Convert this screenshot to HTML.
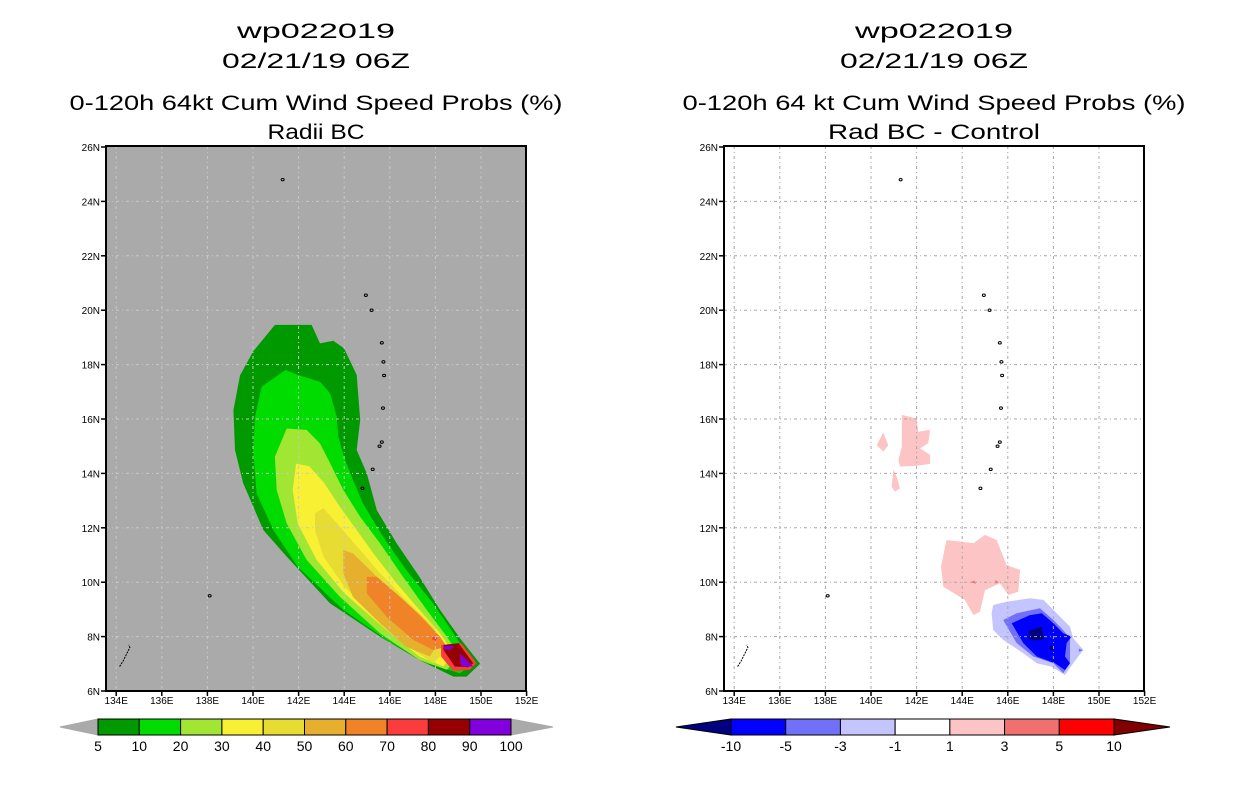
<!DOCTYPE html>
<html><head><meta charset="utf-8"><style>
html,body{margin:0;padding:0;background:#fff}
svg{display:block}
text{font-family:"Liberation Sans",sans-serif;fill:#000}
</style></head><body>
<svg id="c" width="1236" height="800" viewBox="0 0 1236 800" xmlns="http://www.w3.org/2000/svg"></svg>
<script>
const latTicks=[6,8,10,12,14,16,18,20,22,24,26];
const lonTicks=[134,136,138,140,142,144,146,148,150,152];
const probLevels=["5","10","20","30","40","50","60","70","80","90","100"];
const probColors=["#009a00","#00dc00","#a0e632","#f8f032","#e6dc32","#e6af2d","#f08228","#fa3c3c","#960000","#8200dc"];
const diffLevels=["-10","-5","-3","-1","1","3","5","10"];
const diffColors=["#0000ff","#7070f8","#c4c4ff","#ffffff","#fcc4c4","#f07070","#ff0000"];
const prob5=[[140.96,19.46],[142.57,19.46],[142.94,18.78],[143.52,18.88],[143.99,18.6],[144.55,17.62],[144.7,15.96],[144.55,14.86],[144.99,14.0],[145.43,12.65],[146.3,11.43],[147.3,10.2],[148.2,8.98],[149.08,7.94],[149.96,7.0],[149.37,6.53],[148.79,6.53],[147.3,7.14],[145.57,8.0],[143.38,9.22],[141.48,10.94],[140.45,11.92],[139.57,13.64],[139.21,14.86],[139.14,16.32],[139.43,17.6],[140.01,18.49]];
const prob10=[[141.43,17.8],[141.96,17.62],[142.94,17.37],[143.38,16.94],[143.67,16.09],[143.74,15.35],[143.99,14.61],[144.38,13.76],[144.82,12.9],[145.7,11.67],[146.72,10.45],[147.9,9.22],[148.79,8.12],[149.66,7.02],[149.08,6.65],[147.62,7.02],[145.86,7.88],[143.96,8.98],[141.96,10.57],[140.89,11.92],[140.16,13.27],[140.01,14.86],[140.09,16.09],[140.38,17.19]];
const prob20=[[141.48,15.65],[142.35,15.6],[142.94,15.1],[143.38,14.37],[143.96,13.39],[144.7,12.4],[145.57,11.43],[146.58,10.2],[147.62,8.98],[148.5,8.0],[149.08,7.27],[148.5,6.78],[147.3,7.14],[145.57,8.12],[143.81,9.46],[142.35,10.82],[141.48,12.16],[141.04,13.39],[140.96,14.61]];
const prob30=[[141.89,14.36],[142.47,14.26],[143.13,13.64],[143.81,12.77],[144.55,11.92],[145.28,11.06],[146.3,9.96],[147.3,8.98],[148.2,8.12],[148.79,7.39],[148.35,6.9],[147.3,7.27],[145.86,8.24],[144.01,9.59],[142.79,10.82],[141.96,12.16],[141.74,13.39]];
const prob40=[[142.72,12.53],[143.09,12.72],[143.81,12.04],[144.7,11.18],[145.57,10.33],[146.72,9.34],[147.9,8.37],[148.5,7.51],[147.9,7.02],[147.03,7.51],[145.57,8.61],[144.01,9.83],[143.09,10.94],[142.72,11.92]];
const prob50=[[143.96,11.18],[144.38,11.06],[145.28,10.33],[146.03,9.59],[147.3,8.73],[148.2,7.88],[147.76,7.27],[146.72,7.63],[145.57,8.49],[144.38,9.46],[143.96,10.33]];
const prob60=[[144.99,10.2],[145.43,10.2],[146.45,9.46],[147.39,8.73],[148.2,8.0],[148.5,7.63],[147.9,7.51],[147.03,7.88],[145.86,8.73],[144.99,9.59]];
const prob70a=[[147.88,8.0],[148.1,7.95],[148.0,7.85],[147.85,7.9]];
const prob70=[[148.25,7.69],[149.13,7.76],[149.81,7.02],[149.52,6.78],[148.79,6.72],[148.25,7.27]];
const prob80=[[148.35,7.69],[149.01,7.76],[149.66,7.02],[149.44,6.87],[148.85,6.9],[148.35,7.51]];
const prob90a=[[148.35,7.67],[148.86,7.64],[148.64,7.51],[148.38,7.54]];
const prob90b=[[149.06,7.39],[149.66,6.9],[149.13,6.9]];
const pinkA=[[141.35,16.15],[142.0,16.02],[142.07,15.53],[142.59,15.6],[142.51,15.11],[142.15,14.92],[142.59,14.68],[142.59,14.35],[142.0,14.28],[141.27,14.25],[141.2,14.49],[141.35,14.98]];
const pinkB=[[140.54,15.5],[140.76,15.04],[140.54,14.8],[140.25,15.04]];
const pinkC=[[140.98,14.13],[141.13,13.88],[141.27,13.45],[141.05,13.33],[140.91,13.51]];
const pinkD=[[143.32,11.55],[144.49,11.43],[145.0,11.74],[145.51,11.55],[145.95,10.63],[146.54,10.45],[146.46,9.65],[146.02,9.53],[145.66,9.96],[145.0,9.71],[144.78,8.92],[144.49,8.79],[144.12,9.35],[143.17,9.83],[143.07,10.57],[143.25,11.3]];
const salmon1=[[144.35,10.0],[144.55,10.06],[144.6,9.94]];
const salmon2=[[145.45,10.08],[145.6,10.0],[145.45,9.94]];
const blueE=[[145.36,9.16],[145.95,9.28],[146.97,9.41],[147.56,9.35],[148.14,8.86],[148.73,8.36],[148.87,7.94],[149.31,7.51],[148.87,7.02],[148.51,6.59],[147.93,6.89],[147.27,7.02],[146.68,7.39],[145.8,7.88],[145.36,8.24],[145.29,8.86]];
const blueF=[[145.8,8.61],[146.39,8.86],[147.41,9.04],[148.0,8.61],[148.43,8.24],[148.73,7.94],[148.73,7.02],[148.43,6.65],[148.0,7.02],[147.12,7.27],[146.39,7.76]];
const blueF2=[[149.12,7.56],[149.3,7.5],[149.12,7.44]];
const blueG=[[146.17,8.49],[146.97,8.79],[147.49,8.86],[148.0,8.49],[148.43,8.12],[148.8,8.0],[148.58,7.76],[148.51,7.27],[148.73,7.02],[148.51,6.77],[148.07,7.02],[147.27,7.27],[146.68,7.76]];
const navyH=[[146.97,8.24],[147.49,8.36],[147.59,7.88],[146.97,7.86],[146.9,8.12]];
const navyH2=[[147.82,7.62],[148.0,7.66],[148.02,7.5],[147.85,7.52]];
const islands=[[141.3,24.8],[144.95,20.55],[145.2,20.0],[145.65,18.8],[145.72,18.1],[145.75,17.6],[145.7,16.4],[145.65,15.15],[145.55,15.0],[145.25,14.15],[144.8,13.45],[138.1,9.5]];
const palau=[[134.15,6.9],[134.3,7.1],[134.45,7.35],[134.6,7.6],[134.55,7.7]];

const NS="http://www.w3.org/2000/svg";
const svg=document.getElementById('c');
function mk(tag,attrs,parent){const e=document.createElementNS(NS,tag);for(const k in attrs)e.setAttribute(k,attrs[k]);(parent||svg).appendChild(e);return e;}
const x0=106,x1=526,y0=146,y1=691;
function xs(lon,off){return off+253+(lon-140)*22.8;}
function ys(lat){return 691-(lat-6)*27.2;}
function poly(g,pts,color,off,name){
  const p=mk('polygon',{points:pts.map(q=>xs(q[0],off).toFixed(1)+','+ys(q[1]).toFixed(1)).join(' '),fill:color},g);
  
  
}
function txt(s,x,y,size,anchor,len,g,name){
  const t=mk('text',{x:x,y:y,'font-size':size,'text-anchor':anchor||'middle'},g);
  if(len){t.setAttribute('textLength',len);t.setAttribute('lengthAdjust','spacingAndGlyphs');}
  t.textContent=s;
  
  
  return t;
}
function panel(off,bg,gridColor,shapes,titles,name){
  const g=mk('g',{});
  
  
  const r=mk('rect',{x:x0+off,y:y0,width:x1-x0,height:y1-y0,fill:bg},g);
  
  
  shapes.forEach(s=>poly(g,s[0],s[1],off,s[2]));
  lonTicks.forEach(l=>{const x=xs(l,off);if(x>x0+off+2&&x<x1+off-2){const ln=mk('line',{x1:x,y1:y0,x2:x,y2:y1,stroke:gridColor,'stroke-width':1,'stroke-dasharray':'3,3,1,3'},g);}});
  latTicks.forEach(l=>{const y=ys(l);if(y>y0+2&&y<y1-2){const ln=mk('line',{x1:x0+off,y1:y,x2:x1+off,y2:y,stroke:gridColor,'stroke-width':1,'stroke-dasharray':'3,3,1,3'},g);}});
  islands.forEach(p=>{const e=mk('ellipse',{cx:xs(p[0],off),cy:ys(p[1]),rx:1.5,ry:1.2,fill:'none',stroke:'#000','stroke-width':1},g);});
  const pl=mk('polyline',{points:palau.map(q=>xs(q[0],off)+','+ys(q[1])).join(' '),fill:'none',stroke:'#000','stroke-width':1,'stroke-dasharray':'2,1'},g);
  
  const fr=mk('rect',{x:x0+off,y:y0,width:x1-x0,height:y1-y0,fill:'none',stroke:'#000','stroke-width':2},g);
  
  latTicks.forEach(l=>{const y=ys(l);const t=mk('line',{x1:x0+off-5,y1:y,x2:x0+off,y2:y,stroke:'#000','stroke-width':1.5},g);
    txt(l+'N',x0+off-6,y+4,10,'end',null,g,'lat-tick-label');});
  lonTicks.forEach(l=>{const x=xs(l,off);const t=mk('line',{x1:x,y1:y1,x2:x,y2:y1+5,stroke:'#000','stroke-width':1.5},g);
    txt(l+'E',x,y1+13,10,'middle',null,g,'lon-tick-label');});
  const cx=316+off;
  txt(titles[0],cx,38,21,'middle',titles[4],g,'title-storm-id');
  txt(titles[1],cx,68,21,'middle',titles[5],g,'title-date');
  txt(titles[2],cx,110,21,'middle',titles[6],g,'title-product');
  txt(titles[3],cx,139,21,'middle',titles[7],g,'title-subtitle');
}
panel(0,'#aaaaaa','#c8c8c8',[
 [prob5,probColors[0],'contour-5'],[prob10,probColors[1],'contour-10'],[prob20,probColors[2],'contour-20'],
 [prob30,probColors[3],'contour-30'],[prob40,probColors[4],'contour-40'],[prob50,probColors[5],'contour-50'],
 [prob60,probColors[6],'contour-60'],[prob70a,probColors[7],'contour-70-spot'],[prob70,probColors[7],'contour-70'],
 [prob80,probColors[8],'contour-80'],[prob90a,probColors[9],'contour-90a'],[prob90b,probColors[9],'contour-90b']
],['wp022019','02/21/19 06Z','0-120h 64kt Cum Wind Speed Probs (%)','Radii BC',158,188,493,97],'left-panel');
panel(618,'#ffffff','#a8a8a8',[
 [pinkA,diffColors[4],'diff-pos-a'],[pinkB,diffColors[4],'diff-pos-b'],[pinkC,diffColors[4],'diff-pos-c'],[pinkD,diffColors[4],'diff-pos-d'],
 [salmon1,diffColors[5],'diff-pos3-a'],[salmon2,diffColors[5],'diff-pos3-b'],
 [blueE,diffColors[2],'diff-neg1'],[blueF,diffColors[1],'diff-neg3'],[blueF2,diffColors[1],'diff-neg3-spot'],[blueG,diffColors[0],'diff-neg5'],
 [navyH,'#000080','diff-neg10'],[navyH2,'#000080','diff-neg10-spot']
],['wp022019','02/21/19 06Z','0-120h 64 kt Cum Wind Speed Probs (%)','Rad BC - Control',158,188,503,212],'right-panel');

// left colorbar
(function(){
  const g=mk('g',{});
  const bx0=98,bx1=511,ty=719,by=735,w=(bx1-bx0)/probColors.length;
  const a=mk('polygon',{points:`60,727 ${bx0},${ty} ${bx0},${by}`,fill:'#aaaaaa',stroke:'#aaaaaa'},g);
  const b=mk('polygon',{points:`553,727 ${bx1},${ty} ${bx1},${by}`,fill:'#aaaaaa',stroke:'#aaaaaa'},g);
  probColors.forEach((c,i)=>{const r=mk('rect',{x:bx0+i*w,y:ty,width:w,height:by-ty,fill:c,stroke:'#000','stroke-width':1},g);});
  probLevels.forEach((s,i)=>txt(s,bx0+i*w,751,14,'middle',null,g,'colorbar-label'));
})();
// right colorbar
(function(){
  const g=mk('g',{});
  const bx0=731,bx1=1114,ty=719,by=735,w=(bx1-bx0)/diffColors.length;
  const a=mk('polygon',{points:`676,727 ${bx0},${ty} ${bx0},${by}`,fill:'#000080',stroke:'#000'},g);
  const b=mk('polygon',{points:`1170,727 ${bx1},${ty} ${bx1},${by}`,fill:'#800000',stroke:'#000'},g);
  diffColors.forEach((c,i)=>{const r=mk('rect',{x:bx0+i*w,y:ty,width:w,height:by-ty,fill:c,stroke:'#000','stroke-width':1},g);});
  diffLevels.forEach((s,i)=>txt(s,bx0+i*w,751,14,'middle',null,g,'colorbar-label'));
})();
</script>
</body></html>
